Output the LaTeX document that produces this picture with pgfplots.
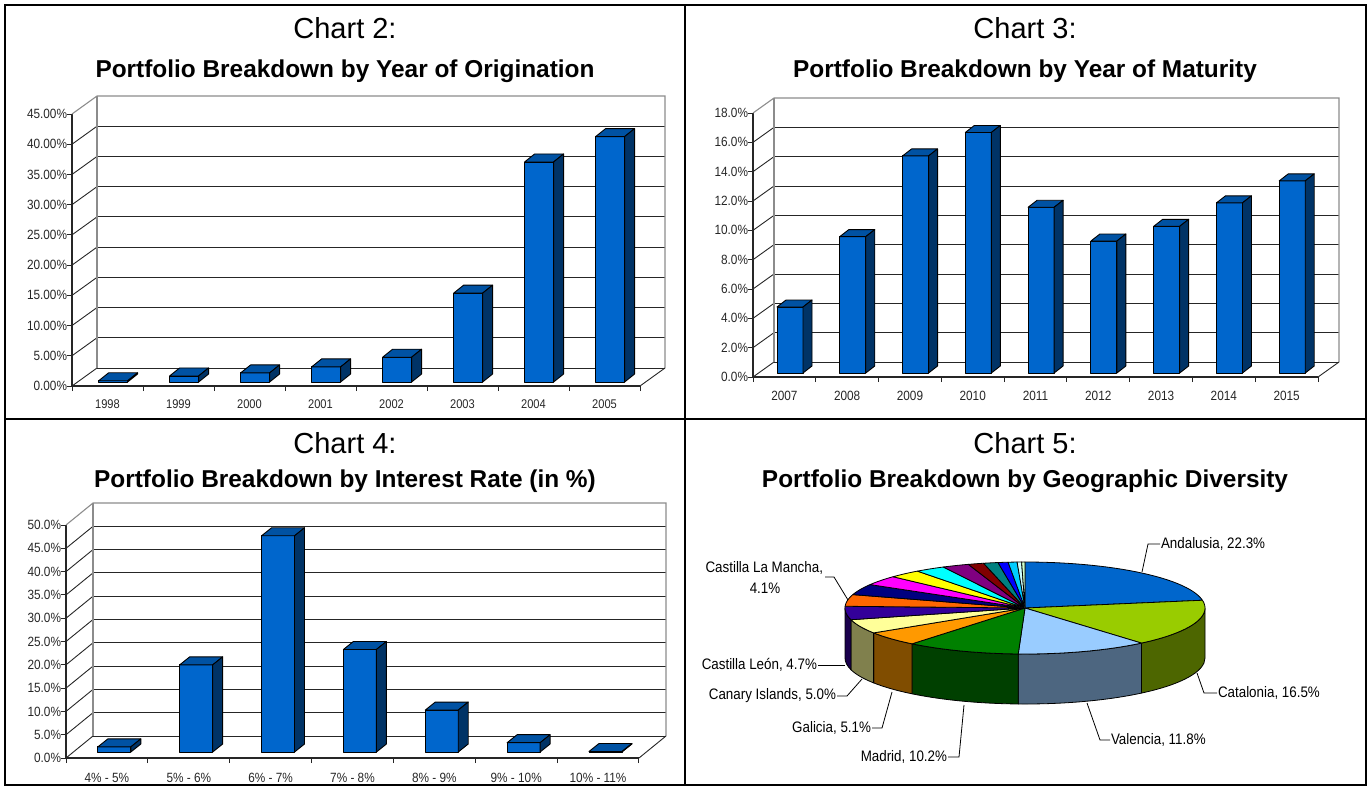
\documentclass[border=0pt]{standalone}
\usepackage{fontspec}
\setmainfont{Liberation Sans}
\newfontfamily\cond[FakeStretch=0.88]{Liberation Sans}
\usepackage{pgfplots}
\usepackage{pgfplotstable}
\pgfplotsset{compat=1.18}

\definecolor{barF}{HTML}{0066CC}
\definecolor{barT}{HTML}{0052A3}
\definecolor{barS}{HTML}{003366}
\definecolor{pA}{HTML}{0066CC}
\definecolor{pB}{HTML}{99CC00}\definecolor{pBs}{HTML}{4D6600}
\definecolor{pC}{HTML}{99CCFF}\definecolor{pCs}{HTML}{4D6680}
\definecolor{pD}{HTML}{008000}\definecolor{pDs}{HTML}{004000}
\definecolor{pE}{HTML}{FF9900}\definecolor{pEs}{HTML}{804D00}
\definecolor{pF}{HTML}{FFFF99}\definecolor{pFs}{HTML}{80804D}
\definecolor{pG}{HTML}{330099}\definecolor{pGs}{HTML}{1A004D}
\definecolor{pH}{HTML}{FF6600}
\definecolor{pI}{HTML}{000080}
\definecolor{pJ}{HTML}{FF00FF}
\definecolor{pK}{HTML}{FFFF00}
\definecolor{pL}{HTML}{00FFFF}
\definecolor{pM}{HTML}{800080}
\definecolor{pN}{HTML}{800000}
\definecolor{pO}{HTML}{008080}
\definecolor{pP}{HTML}{0000FF}
\definecolor{pQ}{HTML}{00CCFF}
\definecolor{pR}{HTML}{CCFFFF}
\definecolor{pS}{HTML}{CCFFCC}

% ---------------- data ----------------
\pgfplotstableread{
year val
1998 0.2
1999 1.0
2000 1.5
2001 2.5
2002 4.1
2003 14.7
2004 36.4
2005 40.6
}\origtab
\pgfplotstableread{
year val
2007 4.5
2008 9.3
2009 14.8
2010 16.4
2011 11.3
2012 9.0
2013 10.0
2014 11.6
2015 13.1
}\mattab
\pgfplotstableread{
band val
4-5 1.1
5-6 18.7
6-7 46.4
7-8 22.0
8-9 9.0
9-10 2.0
10-11 0.1
}\ratetab
\pgfplotstableread[col sep=comma]{
region,share,top,side
Andalusia,22.3,pA,pA
Catalonia,16.5,pB,pBs
Valencia,11.8,pC,pCs
Madrid,10.2,pD,pDs
Galicia,5.1,pE,pEs
Canary Islands,5.0,pF,pFs
Castilla Leon,4.7,pG,pGs
Castilla La Mancha,4.1,pH,pH
r9,3.8,pI,pI
r10,3.4,pJ,pJ
r11,2.9,pK,pK
r12,2.7,pL,pL
r13,2.4,pM,pM
r14,1.4,pN,pN
r15,1.3,pO,pO
r16,0.9,pP,pP
r17,0.8,pQ,pQ
r18,0.4,pR,pR
r19,0.3,pS,pS
}\geotab

\tikzset{
 barfront/.style={fill=barF, draw=black, line width=0.45pt, line join=round},
 bartop/.style={fill=barT, draw=black, line width=0.45pt, line join=round},
 barside/.style={fill=barS, draw=black, line width=0.45pt, line join=round},
 wallframe/.style={draw=black!45, line width=0.55pt},
 gridl/.style={draw=black!85, line width=0.45pt},
 leader/.style={draw=black, line width=0.4pt},
}

\pgfplotsset{bar3d/.style={
  scale only axis, clip=false, anchor=origin,
  axis x line=bottom, axis y line=left,
  x axis line style={-, black!85, line width=0.55pt},
  y axis line style={-, black!85, line width=0.55pt},
  tick align=outside, major tick length=2.5pt, minor tick length=2.5pt,
  major x tick style={draw=none},
  minor x tick style={black!85, line width=0.5pt},
  ytick style={black!85, line width=0.5pt},
  yticklabel style={font=\cond\fontsize{6.7}{7}\selectfont, text=black!85},
  xticklabel style={font=\cond\fontsize{6.7}{7}\selectfont, text=black!85},
}}

% 3D bar: #1 index, #2 value
\newcommand\tdbar[2]{%
 \pgfmathsetmacro\bxA{#1+0.5+(\sx-\bw/2)/\ux}%
 \pgfmathsetmacro\bxB{#1+0.5+(\sx+\bw/2)/\ux}%
 \pgfmathsetmacro\byA{\sy/\uy}%
 \pgfmathsetmacro\byB{#2+\sy/\uy}%
 \pgfmathsetmacro\bxC{\bxB+\bdx/\ux}%
 \pgfmathsetmacro\bxD{\bxA+\bdx/\ux}%
 \pgfmathsetmacro\byC{\byB+\bdy/\uy}%
 \pgfmathsetmacro\byD{\byA+\bdy/\uy}%
 \edef\temp{%
  \noexpand\addplot[barfront] coordinates {(\bxA,\byA) (\bxB,\byA) (\bxB,\byB) (\bxA,\byB)} -- cycle;%
  \noexpand\addplot[bartop] coordinates {(\bxA,\byB) (\bxB,\byB) (\bxC,\byC) (\bxD,\byC)} -- cycle;%
  \noexpand\addplot[barside] coordinates {(\bxB,\byA) (\bxC,\byD) (\bxC,\byC) (\bxB,\byB)} -- cycle;}%
 \temp}
\newcommand\drawbars[2]{%
 \pgfplotsforeachungrouped \ii in {0,...,#2}{%
   \pgfplotstablegetelem{\ii}{val}\of#1\let\vv\pgfplotsretval
   \tdbar{\ii}{\vv}}}
% wall: #1 N, #2 ymax, #3 step, #4 ymax-step
\newcommand\wall[4]{%
 \pgfmathsetmacro\wxl{\wdxpx/\ux}%
 \pgfmathsetmacro\wyo{\wdypx/\uy}%
 \pgfmathsetmacro\wxr{#1+\wxl}%
 \pgfmathsetmacro\wyt{#2+\wyo}%
 \pgfplotsforeachungrouped \tv in {0,#3,...,#4}{%
   \pgfmathsetmacro\ty{\tv+\wyo}%
   \edef\temp{\noexpand\draw[gridl] (axis cs:\wxl,\ty) -- (axis cs:\wxr,\ty); \noexpand\draw[gridl] (axis cs:0,\tv) -- (axis cs:\wxl,\ty);}\temp}%
 \edef\temp{\noexpand\draw[wallframe] (axis cs:0,#2) -- (axis cs:\wxl,\wyt) -- (axis cs:\wxr,\wyt) -- (axis cs:\wxr,\wyo);
   \noexpand\draw[wallframe] (axis cs:\wxl,\wyo) -- (axis cs:\wxl,\wyt);
   \noexpand\draw[gridl] (axis cs:#1,0) -- (axis cs:\wxr,\wyo);}\temp}

\begin{document}
\begin{tikzpicture}[x=0.5pt,y=0.5pt]
\tikzset{every node/.append style={inner sep=0pt, outer sep=0pt}}
% frame
\draw[line width=1.2pt] (5,-5) rectangle (1366,-785);
\draw[line width=1.2pt] (685,-5) -- (685,-785);
\draw[line width=1.2pt] (5,-419) -- (1366,-419);

% titles
\node[anchor=base] at (345,-39) {\fontsize{14.5}{16}\selectfont Chart 2:};
\node[anchor=base] at (345,-77) {\fontsize{12.2}{14}\selectfont\bfseries Portfolio Breakdown by Year of Origination};
\node[anchor=base] at (1025,-39) {\fontsize{14.5}{16}\selectfont Chart 3:};
\node[anchor=base] at (1025,-77) {\fontsize{12.2}{14}\selectfont\bfseries Portfolio Breakdown by Year of Maturity};
\node[anchor=base] at (345,-453) {\fontsize{14.5}{16}\selectfont Chart 4:};
\node[anchor=base] at (345,-487) {\fontsize{12.2}{14}\selectfont\bfseries Portfolio Breakdown by Interest Rate (in \%)};
\node[anchor=base] at (1025,-453) {\fontsize{14.5}{16}\selectfont Chart 5:};
\node[anchor=base] at (1025,-487) {\fontsize{12.2}{14}\selectfont\bfseries Portfolio Breakdown by Geographic Diversity};

% ---------- Chart 2 ----------
\def\ux{71}\def\uy{6.0444}\def\sx{5.6}\def\sy{4}\def\bw{29}\def\bdx{10}\def\bdy{8}
\def\wdxpx{25}\def\wdypx{18}
\begin{axis}[bar3d, at={(36pt,-193pt)}, width=284pt, height=136pt,
  xmin=0, xmax=8, ymin=0, ymax=45,
  ytick={0,5,...,45},
  yticklabel={\pgfmathprintnumber[fixed,fixed zerofill,precision=2,assume math mode=true]{\tick}\%},
  xtick={0.5,1.5,...,7.5}, minor xtick={0,...,8},
  xticklabels={1998,1999,2000,2001,2002,2003,2004,2005},
  xticklabel style={font=\cond\fontsize{6.3}{7}\selectfont, yshift=-4.5pt},
]
\wall{8}{45}{5}{40}
\drawbars{\origtab}{7}
\end{axis}

% ---------- Chart 3 ----------
\def\ux{62.78}\def\uy{14.667}\def\sx{5.6}\def\sy{4}\def\bw{26}\def\bdx{9}\def\bdy{7}
\def\wdxpx{21}\def\wdypx{15}
\begin{axis}[bar3d, at={(376.5pt,-188.5pt)}, width=282.5pt, height=132pt,
  xmin=0, xmax=9, ymin=0, ymax=18,
  ytick={0,2,...,18},
  yticklabel={\pgfmathprintnumber[fixed,fixed zerofill,precision=1,assume math mode=true]{\tick}\%},
  xtick={0.5,1.5,...,8.5}, minor xtick={0,...,9},
  xticklabels={2007,2008,2009,2010,2011,2012,2013,2014,2015},
  xticklabel style={yshift=-4.5pt},
]
\wall{9}{18}{2}{16}
\drawbars{\mattab}{8}
\end{axis}

% ---------- Chart 4 ----------
\def\ux{81.86}\def\uy{4.66}\def\sx{7.4}\def\sy{6}\def\bw{33}\def\bdx{10}\def\bdy{8}
\def\wdxpx{27}\def\wdypx{22}
\begin{axis}[bar3d, at={(33pt,-379pt)}, width=286.5pt, height=116.5pt,
  xmin=0, xmax=7, ymin=0, ymax=50,
  ytick={0,5,...,50},
  yticklabel={\pgfmathprintnumber[fixed,fixed zerofill,precision=1,assume math mode=true]{\tick}\%},
  xtick={0.5,1.5,...,6.5}, minor xtick={0,...,7},
  xticklabels={4\% - 5\%,5\% - 6\%,6\% - 7\%,7\% - 8\%,8\% - 9\%,9\% - 10\%,10\% - 11\%},
  xticklabel style={yshift=-5pt},
]
\wall{7}{50}{5}{45}
\drawbars{\ratetab}{6}
\end{axis}

% ---------- Chart 5 (pie) ----------
\begin{axis}[at={(512.5pt,-304pt)}, anchor=origin, x=0.5pt, y=0.5pt,
  xmin=-200, xmax=200, ymin=-110, ymax=60, hide axis, clip=false]
% side walls
\xdef\cum{0}
\pgfplotsforeachungrouped \ii in {0,...,18}{%
  \pgfplotstablegetelem{\ii}{share}\of\geotab \let\psh\pgfplotsretval
  \pgfplotstablegetelem{\ii}{side}\of\geotab \let\psc\pgfplotsretval
  \pgfmathsetmacro\ta{\cum*3.6}%
  \pgfmathsetmacro\tb{(\cum+\psh)*3.6}%
  \pgfmathsetmacro\wa{max(\ta,90)}%
  \pgfmathsetmacro\wb{min(\tb,270)}%
  \pgfmathparse{\wb>\wa ? 1 : 0}%
  \ifdim\pgfmathresult pt>0.5pt
    \pgfmathsetmacro\ex{180*sin(\wb)}%
    \pgfmathsetmacro\ey{46*cos(\wb)-50}%
    \pgfmathsetmacro\sa{90-\wb}%
    \pgfmathsetmacro\sb{90-\wa}%
    \edef\temp{\noexpand\addplot[fill=\psc, draw=black, line width=0.4pt, line join=round, domain=\wa:\wb, samples=40] ({180*sin(x)},{46*cos(x)}) -- (axis cs:\ex,\ey) arc[start angle=\sa, end angle=\sb, x radius=90pt, y radius=23pt] -- cycle;}%
    \temp
  \fi
  \pgfmathparse{\cum+\psh}\xdef\cum{\pgfmathresult}%
}
% top faces
\xdef\cum{0}
\pgfplotsforeachungrouped \ii in {0,...,18}{%
  \pgfplotstablegetelem{\ii}{share}\of\geotab \let\psh\pgfplotsretval
  \pgfplotstablegetelem{\ii}{top}\of\geotab \let\ptc\pgfplotsretval
  \pgfmathsetmacro\ta{\cum*3.6}%
  \pgfmathsetmacro\tb{(\cum+\psh)*3.6}%
  \edef\temp{\noexpand\addplot[fill=\ptc, draw=black, line width=0.4pt, line join=round, domain=\ta:\tb, samples=40] ({180*sin(x)},{46*cos(x)}) -- (axis cs:0,0) -- cycle;}%
  \temp
  \pgfmathparse{\cum+\psh}\xdef\cum{\pgfmathresult}%
}
% leaders and labels
\tikzset{lab/.style={font=\cond\fontsize{7.6}{9}\selectfont}}
\draw[leader] (axis cs:117,36) -- (axis cs:123,64) -- (axis cs:135,64);
\node[lab, anchor=west] at (axis cs:136,64) {Andalusia, 22.3\%};
\draw[leader] (axis cs:172,-65) -- (axis cs:179,-85) -- (axis cs:192,-85);
\node[lab, anchor=west] at (axis cs:193,-85) {Catalonia, 16.5\%};
\draw[leader] (axis cs:62,-95) -- (axis cs:75,-132) -- (axis cs:85,-132);
\node[lab, anchor=west] at (axis cs:86,-132) {Valencia, 11.8\%};
\draw[leader] (axis cs:-61,-97) -- (axis cs:-66,-149) -- (axis cs:-77,-149);
\node[lab, anchor=east] at (axis cs:-78,-149) {Madrid, 10.2\%};
\draw[leader] (axis cs:-133,-84) -- (axis cs:-143,-120) -- (axis cs:-153,-120);
\node[lab, anchor=east] at (axis cs:-154,-120) {Galicia, 5.1\%};
\draw[leader] (axis cs:-163,-71) -- (axis cs:-178,-88) -- (axis cs:-188,-88);
\node[lab, anchor=east] at (axis cs:-189,-88) {Canary Islands, 5.0\%};
\draw[leader] (axis cs:-180,-57) -- (axis cs:-207,-57);
\node[lab, anchor=east] at (axis cs:-208,-57) {Castilla León, 4.7\%};
\draw[leader] (axis cs:-177,8) -- (axis cs:-191,31) -- (axis cs:-200,31);
\node[lab, anchor=east] at (axis cs:-202,40) {Castilla La Mancha,};
\node[lab] at (axis cs:-260,20) {4.1\%};
\end{axis}

\pgfresetboundingbox
\path[use as bounding box] (0,0) rectangle (1369,-787);
\end{tikzpicture}
\end{document}
